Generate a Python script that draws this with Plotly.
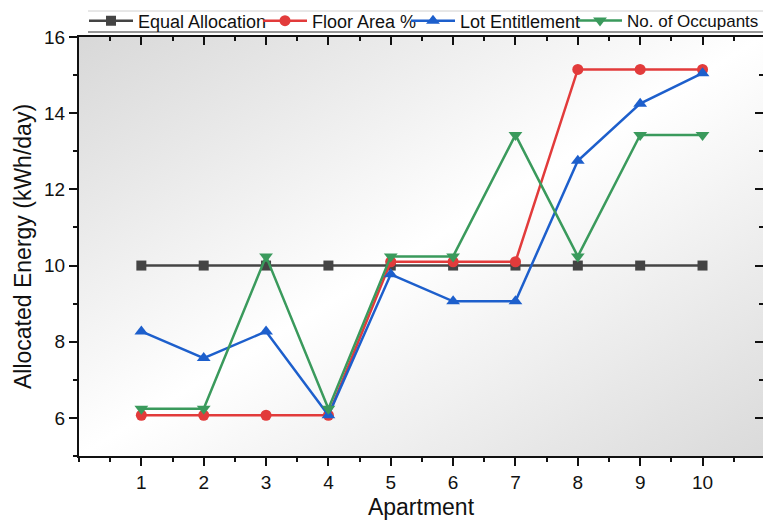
import plotly.graph_objects as go
from urllib.parse import quote

apartments = [1, 2, 3, 4, 5, 6, 7, 8, 9, 10]
equal_alloc = [10, 10, 10, 10, 10, 10, 10, 10, 10, 10]
floor_area = [6.07, 6.07, 6.07, 6.07, 10.1, 10.1, 10.1, 15.15, 15.15, 15.15]
lot_entitlement = [8.27, 7.57, 8.27, 6.07, 9.77, 9.06, 9.06, 12.75, 14.25, 15.05]
occupants = [6.24, 6.24, 10.24, 6.24, 10.24, 10.24, 13.43, 10.24, 13.43, 13.43]
x_ticks = [1, 2, 3, 4, 5, 6, 7, 8, 9, 10]

series = [
    ("Equal Allocation", equal_alloc, "#444444", "square", 10),
    ("Floor Area %", floor_area, "#e23b3b", "circle", 11),
    ("Lot Entitlement", lot_entitlement, "#1d5fcc", "triangle-up", 12),
    ("No. of Occupants", occupants, "#3a9a5c", "triangle-down", 12),
]

# layout geometry (pixels) used to place the separate legend boxes
L, R, T, B, W, H = 79, 0, 37, 64, 763, 520
plot_w = W - L - R
plot_h = H - T - B
legend_px = [84, 258, 406, 573]
legend_fs = [18, 18, 18, 17]

font = "Liberation Sans, Arial, sans-serif"
fig = go.Figure()
legend_layout = {}
for i, (name, vals, col, sym, sz) in enumerate(series):
    lname = "legend" if i == 0 else f"legend{i + 1}"
    fig.add_trace(go.Scatter(
        x=apartments, y=vals, name=name, mode="lines+markers",
        line=dict(color=col, width=2.5),
        marker=dict(symbol=sym, size=sz, color=col),
        legend=lname,
    ))
    legend_layout[lname] = dict(
        orientation="h", x=(legend_px[i] - L) / plot_w, y=1 + (T - 21) / plot_h,
        xanchor="left", yanchor="middle", bgcolor="rgba(0,0,0,0)", borderwidth=0,
        font=dict(size=legend_fs[i], family=font, color="#111111"), itemwidth=44,
    )

svg = ("<svg xmlns='http://www.w3.org/2000/svg' viewBox='0 0 100 100' width='100' height='100' "
       "preserveAspectRatio='none'><defs><linearGradient id='g' x1='0' y1='0' x2='1' y2='1'>"
       "<stop offset='0' stop-color='#d8d8d8'/><stop offset='0.5' stop-color='#ffffff'/>"
       "<stop offset='1' stop-color='#dadada'/></linearGradient></defs>"
       "<rect x='0' y='0' width='100' height='100' fill='url(#g)'/></svg>")
src = "data:image/svg+xml;charset=utf-8," + quote(svg)

xr = [0, 10.97]
yr = [5, 16]

fig.update_layout(
    width=W, height=H, autosize=False,
    margin=dict(l=L, r=R, t=T, b=B, autoexpand=False),
    paper_bgcolor="white",
    plot_bgcolor="white",
    font=dict(family=font, color="#111111"),
    images=[dict(source=src, xref="paper", yref="paper", x=0, y=1, sizex=1, sizey=1,
                 xanchor="left", yanchor="top", sizing="stretch", layer="below")],
    showlegend=True,
    xaxis=dict(range=xr, tickmode="array", tickvals=x_ticks, ticktext=[str(v) for v in x_ticks],
               ticks="outside", ticklen=8, tickwidth=2, tickcolor="#111111",
               showline=True, linewidth=2, linecolor="#111111", showgrid=False, zeroline=False,
               tickfont=dict(size=19),
               minor=dict(tickmode="linear", tick0=0, dtick=0.5, ticks="outside", ticklen=4,
                          tickwidth=1.5, tickcolor="#111111", showgrid=False),
               title=dict(text="Apartment", font=dict(size=23), standoff=10)),
    xaxis2=dict(range=xr, overlaying="x", side="top", anchor="y", matches="x",
                tickmode="array", tickvals=x_ticks, showticklabels=False,
                ticks="inside", ticklen=8, tickwidth=2, tickcolor="#111111",
                showline=True, linewidth=2, linecolor="#111111", showgrid=False, zeroline=False,
                minor=dict(tickmode="linear", tick0=0, dtick=0.5, ticks="inside", ticklen=4,
                           tickwidth=1.5, tickcolor="#111111", showgrid=False)),
    yaxis=dict(range=yr, tickmode="linear", tick0=0, dtick=2,
               ticks="outside", ticklen=8, tickwidth=2, tickcolor="#111111",
               showline=True, linewidth=2, linecolor="#111111", showgrid=False, zeroline=False,
               tickfont=dict(size=19),
               minor=dict(tickmode="linear", tick0=0, dtick=1, ticks="outside", ticklen=4,
                          tickwidth=1.5, tickcolor="#111111", showgrid=False),
               title=dict(text="Allocated Energy (kWh/day)", font=dict(size=23), standoff=6)),
    yaxis2=dict(range=yr, overlaying="y", side="right", anchor="x", matches="y",
                tickmode="linear", tick0=0, dtick=2, showticklabels=False,
                ticks="inside", ticklen=8, tickwidth=2, tickcolor="#111111",
                showline=False, showgrid=False, zeroline=False,
                minor=dict(tickmode="linear", tick0=0, dtick=1, ticks="inside", ticklen=4,
                           tickwidth=1.5, tickcolor="#111111", showgrid=False)),
    shapes=[
        dict(type="line", xref="paper", yref="paper", x0=(88 - L) / plot_w, x1=1,
             y0=1 + (T - 11) / plot_h, y1=1 + (T - 11) / plot_h,
             line=dict(color="#d0d0d0", width=1)),
        dict(type="line", xref="paper", yref="paper", x0=(88 - L) / plot_w, x1=1,
             y0=1 + (T - 32) / plot_h, y1=1 + (T - 32) / plot_h,
             line=dict(color="#333333", width=1.2)),
    ],
    **legend_layout,
)

# invisible trace to activate the mirrored axes
fig.add_trace(go.Scatter(x=[None], y=[None], xaxis="x2", yaxis="y2", showlegend=False,
                         hoverinfo="skip"))

post = ("document.documentElement.style.margin='0';document.body.style.margin='0';"
        "document.documentElement.style.overflow='hidden';document.body.style.overflow='hidden';")
fig.write_html("out.html", post_script=post, config={"displayModeBar": False})
